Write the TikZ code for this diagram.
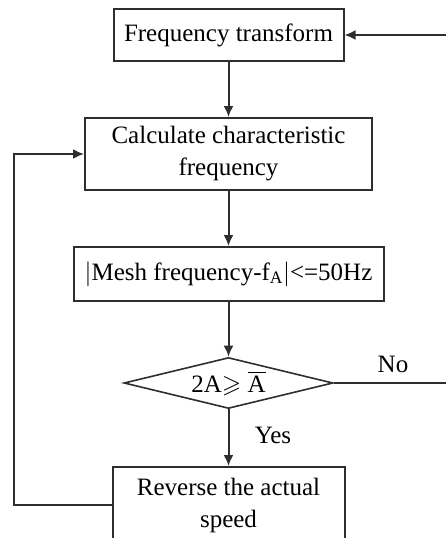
\documentclass[tikz,border=0pt]{standalone}
\usepackage{amssymb}
\usepackage{fontspec}
\setmainfont{Liberation Serif}
\usetikzlibrary{shapes.geometric,arrows.meta}
\definecolor{ink}{HTML}{2E2E2E}
\begin{document}
\begin{tikzpicture}[x=1pt,y=-1pt,
  every node/.style={font=\fontsize{25}{32}\selectfont, text=black},
  procbox/.style={draw=ink, line width=2pt, rectangle, inner sep=0pt, align=center},
  decision/.style={draw=ink, line width=1.6pt, diamond, inner sep=0pt, aspect=4.1},
  flow/.style={draw=ink, line width=2pt, -{Latex[length=11pt,width=10pt]}},
  plain/.style={draw=ink, line width=2pt},
  tag/.style={inner sep=0pt}]
\useasboundingbox (0,0) rectangle (446,538);

\node[procbox, minimum width=230pt, minimum height=52pt] (ft) at (228.5,35) {Frequency transform};
\node[procbox, minimum width=287pt, minimum height=72pt] (cf) at (228.5,154) {Calculate characteristic\\frequency};
\node[procbox, minimum width=310pt, minimum height=54pt] (mf) at (228.5,274) {$|$Mesh frequency-f\textsubscript{A}$|$<=50Hz};
\node[decision, minimum width=209pt, minimum height=51pt] (dc) at (228.5,383) {2A$\geqslant$\ $\overline{\mathrm{A}}$};
\node[procbox, minimum width=232pt, minimum height=76pt] (rs) at (228.5,505) {Reverse the actual\\speed};

\coordinate (inR) at (446,35);
\coordinate (outR) at (446,383);
\coordinate (loopL) at (14,505);

\draw[flow] (inR) -- (ft.east);
\draw[flow] (ft.south) -- (cf.north);
\draw[flow] (cf.south) -- (mf.north);
\draw[flow] (mf.south) -- (dc.north);
\draw[plain] (dc.east) -- (outR);
\draw[flow] (dc.south) -- (rs.north);
\draw[flow] (rs.west) -- (loopL) |- (cf.west);

\node[tag] (no) at (393,364) {No};
\node[tag] (yes) at (273,435) {Yes};
\end{tikzpicture}
\end{document}
